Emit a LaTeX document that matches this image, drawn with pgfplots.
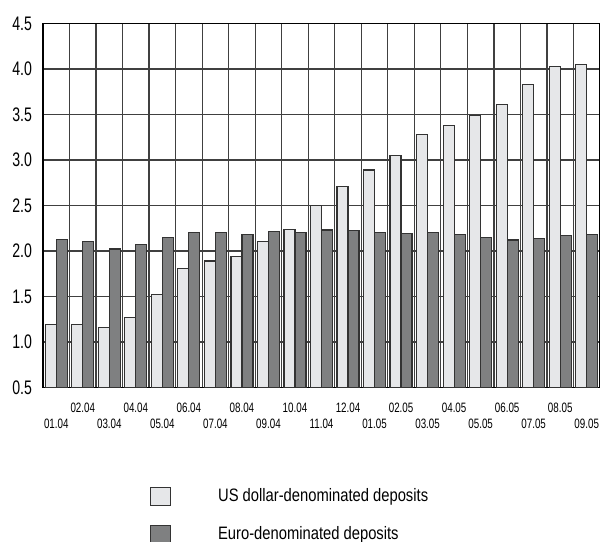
\documentclass[border=0pt]{standalone}
\usepackage{pgfplots}
\pgfplotsset{compat=1.18}
\usepackage{fontspec}
\setmainfont{Liberation Sans}[FakeStretch=0.82]
\newfontfamily\narrowfont{Liberation Sans}[FakeStretch=0.72]
\definecolor{lightbar}{HTML}{E6E7E9}
\definecolor{darkbar}{HTML}{7F8081}
\definecolor{barline}{HTML}{333333}
\begin{document}
\begin{tikzpicture}
\begin{axis}[
  at={(0,0)}, anchor=south west,
  scale only axis,
  width=278.5pt, height=182pt,
  xmin=-0.5, xmax=20.5,
  ymin=0.5, ymax=4.5,
  ybar, bar width=0.415,
  ytick={0.5,1,...,4.5},
  yticklabel style={/pgf/number format/fixed,/pgf/number format/fixed zerofill,/pgf/number format/precision=1,
     font=\narrowfont\fontsize{9.8}{11}\selectfont, xshift=-2pt},
  /pgf/number format/assume math mode=true,
  xtick={1,3,...,19},
  xticklabels={02.04,04.04,06.04,08.04,10.04,12.04,02.05,04.05,06.05,08.05},
  xticklabel style={font=\narrowfont\fontsize{6.8}{8}\selectfont, yshift=-4.5pt},
  extra x ticks={0,2,...,20},
  extra x tick labels={01.04,03.04,05.04,07.04,09.04,11.04,01.05,03.05,05.05,07.05,09.05},
  extra x tick style={xticklabel style={yshift=-8pt}, grid=none},
  minor xtick={-0.5,0.5,...,20.5},
  xminorgrids=true, ymajorgrids=true, xmajorgrids=false,
  major tick length=0pt, minor tick length=0pt,
  grid style={black!75, line width=0.6pt},
  minor grid style={black!75, line width=0.6pt},
  axis line style={black, line width=0.7pt},
  legend style={draw=none, fill=none, inner sep=0pt, outer sep=0pt,
    at={(axis description cs:0.192,-0.2734)}, anchor=north west,
    font=\fontsize{9}{10}\selectfont,
    nodes={inner sep=0pt, anchor=west},
    row sep=9.5pt,
    /tikz/every odd column/.style={column sep=23.5pt}},
  legend cell align=left,
  legend image code/.code={\draw[#1] (0pt,-4.5pt) rectangle (10pt,4.5pt);},
]
\addplot[fill=lightbar, draw=barline, line width=0.6pt, bar shift=-0.2075] coordinates {
(0,1.19) (1,1.19) (2,1.16) (3,1.27) (4,1.52) (5,1.81) (6,1.89) (7,1.94) (8,2.10) (9,2.235)
(10,2.50) (11,2.71) (12,2.89) (13,3.05) (14,3.28) (15,3.38) (16,3.49) (17,3.61) (18,3.83) (19,4.03) (20,4.05)};
\addlegendentry{US dollar-denominated deposits}
\addplot[fill=darkbar, draw=barline, line width=0.6pt, bar shift=0.2075] coordinates {
(0,2.125) (1,2.10) (2,2.02) (3,2.07) (4,2.15) (5,2.20) (6,2.20) (7,2.18) (8,2.21) (9,2.20)
(10,2.23) (11,2.22) (12,2.20) (13,2.19) (14,2.20) (15,2.18) (16,2.15) (17,2.12) (18,2.14) (19,2.17) (20,2.18)};
\addlegendentry{Euro-denominated deposits}
\end{axis}
\pgfresetboundingbox
\useasboundingbox (-21.5pt,-77.25pt) rectangle (278.5pt,193.7pt);
\end{tikzpicture}
\end{document}
